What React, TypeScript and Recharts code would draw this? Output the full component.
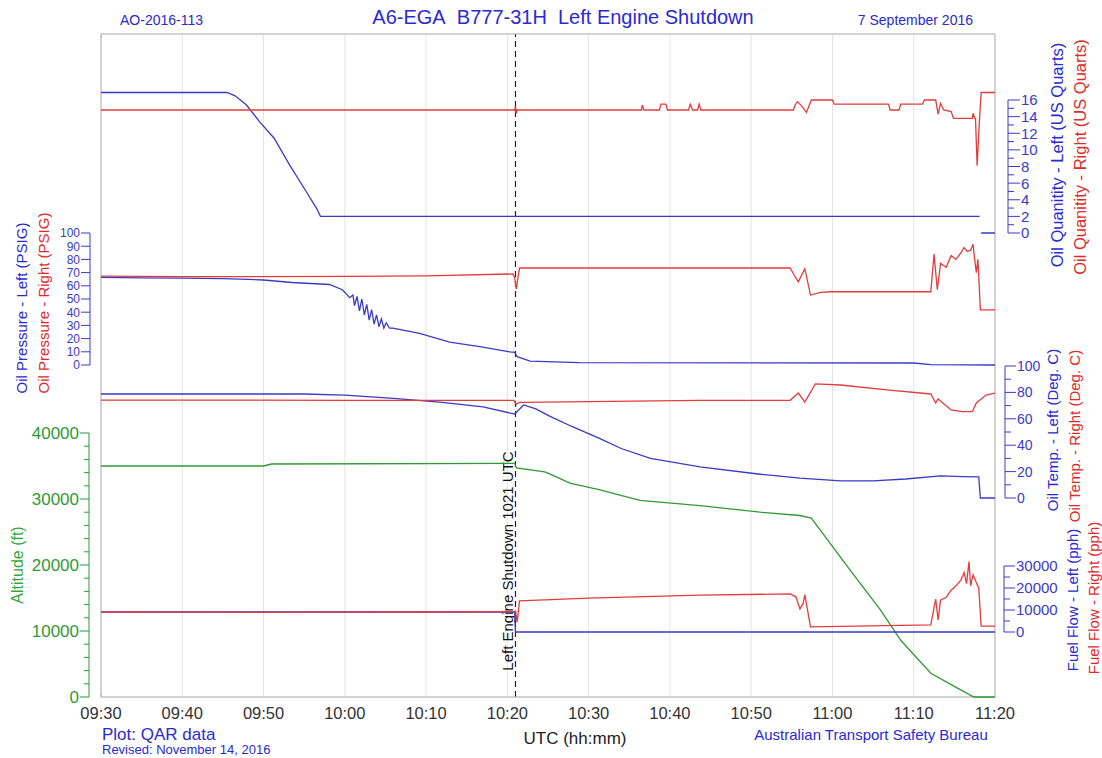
import React from "react";
import {
  ComposedChart,
  Line,
  XAxis,
  YAxis,
  CartesianGrid,
  ReferenceLine,
} from "recharts";

// time is minutes after 09:30 UTC
const timeTicks = [0, 10, 20, 30, 40, 50, 60, 70, 80, 90, 100, 110];
const minorTimeTicks = Array.from({ length: 56 }, (_, i) => i * 2);
const SHUTDOWN = 51; // 10:21

const qtyTicks = [0, 1, 2, 3, 4, 5, 6, 7, 8, 9, 10, 11, 12, 13, 14, 15, 16];
const pressTicks = [0, 10, 20, 30, 40, 50, 60, 70, 80, 90, 100];
const tempTicks = [0, 10, 20, 30, 40, 50, 60, 70, 80, 90, 100];
const altTicks = [0, 2000, 4000, 6000, 8000, 10000, 12000, 14000, 16000, 18000, 20000, 22000, 24000, 26000, 28000, 30000, 32000, 34000, 36000, 38000, 40000];
const fuelTicks = [0, 5000, 10000, 15000, 20000, 25000, 30000];

// [minute, value]
const qtyLeft = [[0, 16.9], [15.5, 16.9], [16.5, 16.5], [17.9, 15.4], [19.5, 13.4], [21.3, 11.4], [23.2, 8.2], [25.3, 4.9], [26.5, 3.0], [27.0, 2.0], [108.1, 2.0], [108.2, null], [108.3, 0], [110, 0]];
const qtyRight = [[0, 14.8], [50.9, 14.8], [51.0, 15.2], [51.1, 14.4], [51.2, 14.8], [66.5, 14.8], [66.6, 15.4], [66.8, 14.8], [68.7, 14.8], [68.9, 15.5], [69.5, 15.5], [69.7, 14.8], [72.3, 14.8], [72.5, 15.5], [72.8, 14.8], [73.4, 14.8], [73.6, 15.5], [73.8, 14.8], [85.2, 14.8], [85.4, 15.4], [85.7, 15.8], [86.2, 15.3], [86.8, 14.5], [87.4, 16.0], [90.0, 16.0], [90.2, 15.5], [96.9, 15.5], [97.1, 14.8], [98.2, 14.8], [98.4, 15.5], [101.1, 15.5], [101.3, 16.0], [102.7, 16.0], [103.0, 14.3], [103.3, 15.6], [103.7, 14.8], [104.6, 14.6], [104.9, 13.8], [107.2, 13.8], [107.3, 14.4], [107.5, 13.8], [107.6, 13.8], [107.8, 8.1], [108.1, 13.8], [108.3, 16.9], [110, 16.9]];

const pressLeft = [[0, 66.4], [5, 66], [10, 65.8], [15, 65.5], [20, 64.4], [23.5, 62.5], [28.1, 61], [29.7, 57], [30.6, 51], [31.0, 53], [31.2, 45], [31.5, 52], [31.8, 41], [32.1, 50], [32.4, 38], [32.7, 46], [33.0, 34], [33.3, 42], [33.6, 31], [33.9, 38], [34.2, 29], [34.5, 35], [34.8, 28], [35.1, 32], [35.5, 28], [35.9, 28], [39.2, 24], [42.9, 17.4], [46.6, 13.9], [50.3, 10], [50.9, 9.5], [51.2, 6.3], [52.8, 3], [58.9, 1.8], [100, 1.5], [102.1, 0.3], [110, 0]];
const pressRight = [[0, 67.4], [10, 67], [20, 67], [30, 67.2], [40, 67.5], [50.7, 69], [50.9, 66], [51.1, 57.5], [51.3, 66], [51.5, 73.5], [70, 73.5], [84.8, 73.5], [85.3, 68], [85.8, 63], [86.6, 73], [87.3, 53], [88.5, 55], [89.8, 55.5], [102.1, 55.5], [102.5, 84], [102.9, 57], [103.3, 77], [104.0, 74], [104.6, 83], [105.2, 80], [105.8, 85], [106.2, 89], [106.6, 86], [107.0, 87], [107.3, 91.5], [107.5, 80], [107.7, 70], [107.9, 80], [108.2, 41.7], [110, 41.7]];

const tempLeft = [[0, 78.8], [25, 78.8], [30, 78], [36, 75.5], [42, 72.5], [47, 69], [50.9, 63.6], [52.0, 70.5], [53.5, 67.5], [55.2, 62], [58, 54], [61.4, 45], [64, 37.5], [67.6, 30], [73.7, 23.5], [81.1, 18], [86, 15], [91, 13], [95, 13], [99, 14.4], [103.3, 16.7], [106, 16.2], [108.0, 16], [108.2, 0], [110, 0]];
const tempRight = [[0, 74.2], [30, 74], [50.8, 74], [51.1, 71], [51.5, 72.5], [60, 73], [73.7, 74], [84.8, 74], [85.8, 79.5], [86.6, 72.7], [87.9, 86.4], [91, 85.6], [97, 81.8], [102.1, 78.8], [102.7, 72], [103.0, 75], [104.6, 66.7], [106, 65.4], [107.2, 65.4], [107.7, 72], [108.9, 78], [110, 79.5]];

const altitude = [[0, 35000], [20, 35000], [21, 35300], [50.9, 35400], [51.1, 34700], [54.6, 34100], [55.2, 33800], [57.7, 32400], [61.4, 31400], [66.3, 29800], [73.7, 29000], [81.1, 28000], [86, 27500], [87.4, 27100], [92.2, 19200], [95.9, 13200], [98.4, 8600], [102.1, 3600], [105, 1600], [107.4, 0], [110, 0]];

const fuelLeft = [[0, 9100], [50.9, 9100], [51.0, 0], [110, 0]];
const fuelRight = [[0, 9100], [20, 9000], [40, 9100], [50.9, 9300], [51.0, 9500], [51.2, 4500], [51.5, 14200], [60, 15400], [73.7, 16800], [84.8, 17300], [85.5, 16000], [86.0, 10500], [86.4, 13000], [86.6, 17000], [87.3, 2300], [102.1, 3200], [102.7, 15000], [103.0, 5500], [103.3, 14500], [104, 15800], [104.6, 19000], [105.2, 21000], [105.8, 23600], [106.2, 27000], [106.5, 22000], [106.8, 32000], [107.0, 21000], [107.3, 26000], [107.7, 22500], [108.0, 20000], [108.3, 2700], [110, 2700]];

const W = 1102;
const H = 758;
const PLOT_L = 101;
const PLOT_R = 995;
const PLOT_T = 34;
const PLOT_B = 697;

const BLUE = "#3a3ac8";
const RED = "#e23c3c";
const GREEN = "#2f9a35";
const TXT_BLUE = "#2a2ad2";
const TXT_RED = "#e02a2a";
const TXT_GREEN = "#34a83a";
const FRAME = "#b4b4b4";
const FONT = "'Liberation Sans', Arial, sans-serif";

type Side = "left" | "right";
type Pt = { t: number; v: number | null };

const toPts = (rows: (number | null)[][]): Pt[] =>
  rows.map(([t, v]) => ({ t: t as number, v }));

const fmtTime = (m: number) => {
  const tot = 570 + m;
  const h = Math.floor(tot / 60);
  const mm = tot % 60;
  return `${String(h).padStart(2, "0")}:${String(mm).padStart(2, "0")}`;
};

function makeTick(side: Side, labelEvery: number, color: string, fontSize: number, majorLen: number) {
  const dir = side === "left" ? -1 : 1;
  return (props: any) => {
    const { x, y, payload } = props;
    const v = payload.value as number;
    const major = v % labelEvery === 0;
    const len = major ? majorLen : Math.round(majorLen / 2);
    return (
      <g>
        <line x1={x} x2={x + dir * len} y1={y} y2={y} stroke={color} />
        {major && (
          <text
            x={x + dir * (len + 1)}
            y={y}
            dy="0.36em"
            textAnchor={side === "left" ? "end" : "start"}
            fill={color}
            fontSize={fontSize}
            fontFamily={FONT}
          >
            {v}
          </text>
        )}
      </g>
    );
  };
}

interface PanelProps {
  top: number;
  bottom: number;
  side: Side;
  gap: number;
  domain: [number, number];
  ticks: number[];
  labelEvery: number;
  fontSize: number;
  majorLen: number;
  color: string;
  series: { data: Pt[]; color: string }[];
}

function Panel(p: PanelProps) {
  const axisW = 60;
  const used = p.gap + axisW;
  return (
    <div style={{ position: "absolute", left: 0, top: 0 }}>
      <ComposedChart
        width={W}
        height={H}
        margin={{
          top: p.top,
          bottom: H - p.bottom,
          left: PLOT_L - (p.side === "left" ? used : 0),
          right: W - PLOT_R - (p.side === "right" ? used : 0),
        }}
      >
        <XAxis dataKey="t" type="number" domain={[0, 110]} hide allowDataOverflow />
        <YAxis
          yAxisId="gap"
          orientation={p.side}
          width={p.gap}
          domain={[0, 1]}
          tick={false}
          axisLine={false}
          tickLine={false}
        />
        <YAxis
          yAxisId="val"
          orientation={p.side}
          width={axisW}
          type="number"
          domain={p.domain}
          allowDataOverflow
          ticks={p.ticks}
          interval={0}
          tickSize={0}
          tickMargin={0}
          tickLine={false}
          axisLine={{ stroke: p.color }}
          tick={makeTick(p.side, p.labelEvery, p.color, p.fontSize, p.majorLen)}
        />
        {p.series.map((s, i) => (
          <Line
            key={i}
            yAxisId="val"
            data={s.data}
            dataKey="v"
            type="linear"
            stroke={s.color}
            strokeWidth={1.3}
            dot={false}
            connectNulls={false}
            isAnimationActive={false}
          />
        ))}
      </ComposedChart>
    </div>
  );
}

const shutdownLabel = (props: any) => {
  const vb = props.viewBox || {};
  const x = vb.x - 7.5;
  const y = vb.y + vb.height - 136;
  return (
    <text
      x={x}
      y={y}
      transform={`rotate(-90 ${x} ${y})`}
      textAnchor="middle"
      dy="0.35em"
      fill="#111"
      fontSize={15}
      fontFamily={FONT}
    >
      Left Engine Shutdown 1021 UTC
    </text>
  );
};

const frameExtent = [{ t: 0, g: 0 }, { t: 110, g: 10 }];
const gridRows = [0, 1, 2, 3, 4, 5, 6, 7, 8, 9, 10];
const minorRows = Array.from({ length: 51 }, (_, i) => i);

function Base() {
  return (
    <div style={{ position: "absolute", left: 0, top: 0 }}>
      <ComposedChart
        width={W}
        height={H}
        data={frameExtent}
        margin={{ top: PLOT_T, bottom: H - PLOT_B - 30, left: PLOT_L, right: W - PLOT_R }}
      >
        <CartesianGrid stroke="#e4e4e4" xAxisId="x" yAxisId="grid" />
        <XAxis
          xAxisId="x"
          dataKey="t"
          type="number"
          domain={[0, 110]}
          ticks={timeTicks}
          interval={0}
          tickFormatter={fmtTime}
          height={30}
          axisLine={false}
          tickLine={false}
          tickMargin={4}
          tick={{ fill: "#333", fontSize: 16.5, fontFamily: FONT }}
        />
        <XAxis
          xAxisId="bm"
          orientation="bottom"
          mirror
          type="number"
          domain={[0, 110]}
          ticks={minorTimeTicks}
          interval={0}
          tickSize={4}
          tickFormatter={() => ""}
          axisLine={{ stroke: FRAME }}
          tickLine={{ stroke: FRAME }}
        />
        <XAxis
          xAxisId="tm"
          orientation="top"
          mirror
          type="number"
          domain={[0, 110]}
          ticks={minorTimeTicks}
          interval={0}
          tickSize={4}
          tickFormatter={() => ""}
          axisLine={{ stroke: FRAME }}
          tickLine={{ stroke: FRAME }}
        />
        <YAxis
          yAxisId="grid"
          width={0}
          type="number"
          domain={[0, 10]}
          ticks={gridRows}
          interval={0}
          tick={false}
          axisLine={false}
          tickLine={false}
        />
        <YAxis
          yAxisId="lm"
          orientation="left"
          mirror
          type="number"
          domain={[0, 50]}
          ticks={minorRows}
          interval={0}
          tickSize={4}
          tickFormatter={() => ""}
          axisLine={{ stroke: FRAME }}
          tickLine={{ stroke: FRAME }}
        />
        <YAxis
          yAxisId="rm"
          orientation="right"
          mirror
          type="number"
          domain={[0, 50]}
          ticks={minorRows}
          interval={0}
          tickSize={4}
          tickFormatter={() => ""}
          axisLine={{ stroke: FRAME }}
          tickLine={{ stroke: FRAME }}
        />
        <Line
          xAxisId="x"
          yAxisId="grid"
          dataKey="g"
          stroke="none"
          dot={false}
          isAnimationActive={false}
        />
        <ReferenceLine
          xAxisId="x"
          yAxisId="grid"
          x={SHUTDOWN}
          stroke="#222"
          strokeWidth={1.2}
          strokeDasharray="6 4"
          label={shutdownLabel}
        />
      </ComposedChart>
    </div>
  );
}

function VText(props: { x: number; y: number; color: string; size: number; children: string }) {
  return (
    <text
      x={props.x}
      y={props.y}
      transform={`rotate(-90 ${props.x} ${props.y})`}
      textAnchor="middle"
      dominantBaseline="central"
      fill={props.color}
      fontSize={props.size}
      fontFamily={FONT}
    >
      {props.children}
    </text>
  );
}

function Texts() {
  return (
    <svg
      width={W}
      height={H}
      style={{ position: "absolute", left: 0, top: 0, pointerEvents: "none" }}
    >
      <text x={120} y={25} fill={TXT_BLUE} fontSize={14} fontFamily={FONT}>AO-2016-113</text>
      <text x={563} y={24} textAnchor="middle" fill={TXT_BLUE} fontSize={20} fontFamily={FONT}>
        A6-EGA{"\u00a0\u00a0"}B777-31H{"\u00a0\u00a0"}Left Engine Shutdown
      </text>
      <text x={973} y={25} textAnchor="end" fill={TXT_BLUE} fontSize={14} fontFamily={FONT}>7 September 2016</text>

      <text x={102} y={740} fill={TXT_BLUE} fontSize={17} fontFamily={FONT}>Plot: QAR data</text>
      <text x={102} y={754} fill={TXT_BLUE} fontSize={13} fontFamily={FONT}>Revised: November 14, 2016</text>
      <text x={575} y={744} textAnchor="middle" fill="#222" fontSize={17} fontFamily={FONT}>UTC (hh:mm)</text>
      <text x={871} y={740} textAnchor="middle" fill={TXT_BLUE} fontSize={15} fontFamily={FONT}>Australian Transport Safety Bureau</text>

      <VText x={21} y={308} color={TXT_BLUE} size={15}>Oil Pressure - Left (PSIG)</VText>
      <VText x={43} y={303} color={TXT_RED} size={15}>Oil Pressure - Right (PSIG)</VText>
      <VText x={17} y={565} color={TXT_GREEN} size={16}>Altitude (ft)</VText>

      <VText x={1057} y={155} color={TXT_BLUE} size={16.5}>Oil Quanitity - Left (US Quarts)</VText>
      <VText x={1080} y={157} color={TXT_RED} size={16.5}>Oil Quanitity - Right (US Quarts)</VText>
      <VText x={1052} y={430} color={TXT_BLUE} size={15}>Oil Temp. - Left (Deg. C)</VText>
      <VText x={1074} y={436} color={TXT_RED} size={15}>Oil Temp. - Right (Deg. C)</VText>
      <VText x={1072} y={600} color={TXT_BLUE} size={15}>Fuel Flow - Left (pph)</VText>
      <VText x={1093} y={598} color={TXT_RED} size={15}>Fuel Flow - Right (pph)</VText>
    </svg>
  );
}

export default function App() {
  return (
    <div
      style={{
        position: "absolute",
        left: 0,
        top: 0,
        width: W,
        height: H,
        background: "#fff",
        fontFamily: FONT,
      }}
    >
      <style>{".recharts-line-curve{clip-path:none}"}</style>
      <Base />
      <Panel
        top={100}
        bottom={233}
        side="right"
        gap={13}
        domain={[0, 16]}
        ticks={qtyTicks}
        labelEvery={2}
        fontSize={15}
        majorLen={12}
        color={BLUE}
        series={[
          { data: toPts(qtyLeft), color: BLUE },
          { data: toPts(qtyRight), color: RED },
        ]}
      />
      <Panel
        top={233}
        bottom={365}
        side="left"
        gap={11}
        domain={[0, 100]}
        ticks={pressTicks}
        labelEvery={10}
        fontSize={12}
        majorLen={9}
        color={BLUE}
        series={[
          { data: toPts(pressLeft), color: BLUE },
          { data: toPts(pressRight), color: RED },
        ]}
      />
      <Panel
        top={366}
        bottom={498}
        side="right"
        gap={10}
        domain={[0, 100]}
        ticks={tempTicks}
        labelEvery={20}
        fontSize={14}
        majorLen={11}
        color={BLUE}
        series={[
          { data: toPts(tempLeft), color: BLUE },
          { data: toPts(tempRight), color: RED },
        ]}
      />
      <Panel
        top={433}
        bottom={697}
        side="left"
        gap={12}
        domain={[0, 40000]}
        ticks={altTicks}
        labelEvery={10000}
        fontSize={17}
        majorLen={9}
        color={GREEN}
        series={[{ data: toPts(altitude), color: GREEN }]}
      />
      <Panel
        top={566}
        bottom={632}
        side="right"
        gap={9}
        domain={[0, 30000]}
        ticks={fuelTicks}
        labelEvery={10000}
        fontSize={15}
        majorLen={11}
        color={BLUE}
        series={[
          { data: toPts(fuelLeft), color: BLUE },
          { data: toPts(fuelRight), color: RED },
        ]}
      />
      <Texts />
    </div>
  );
}
